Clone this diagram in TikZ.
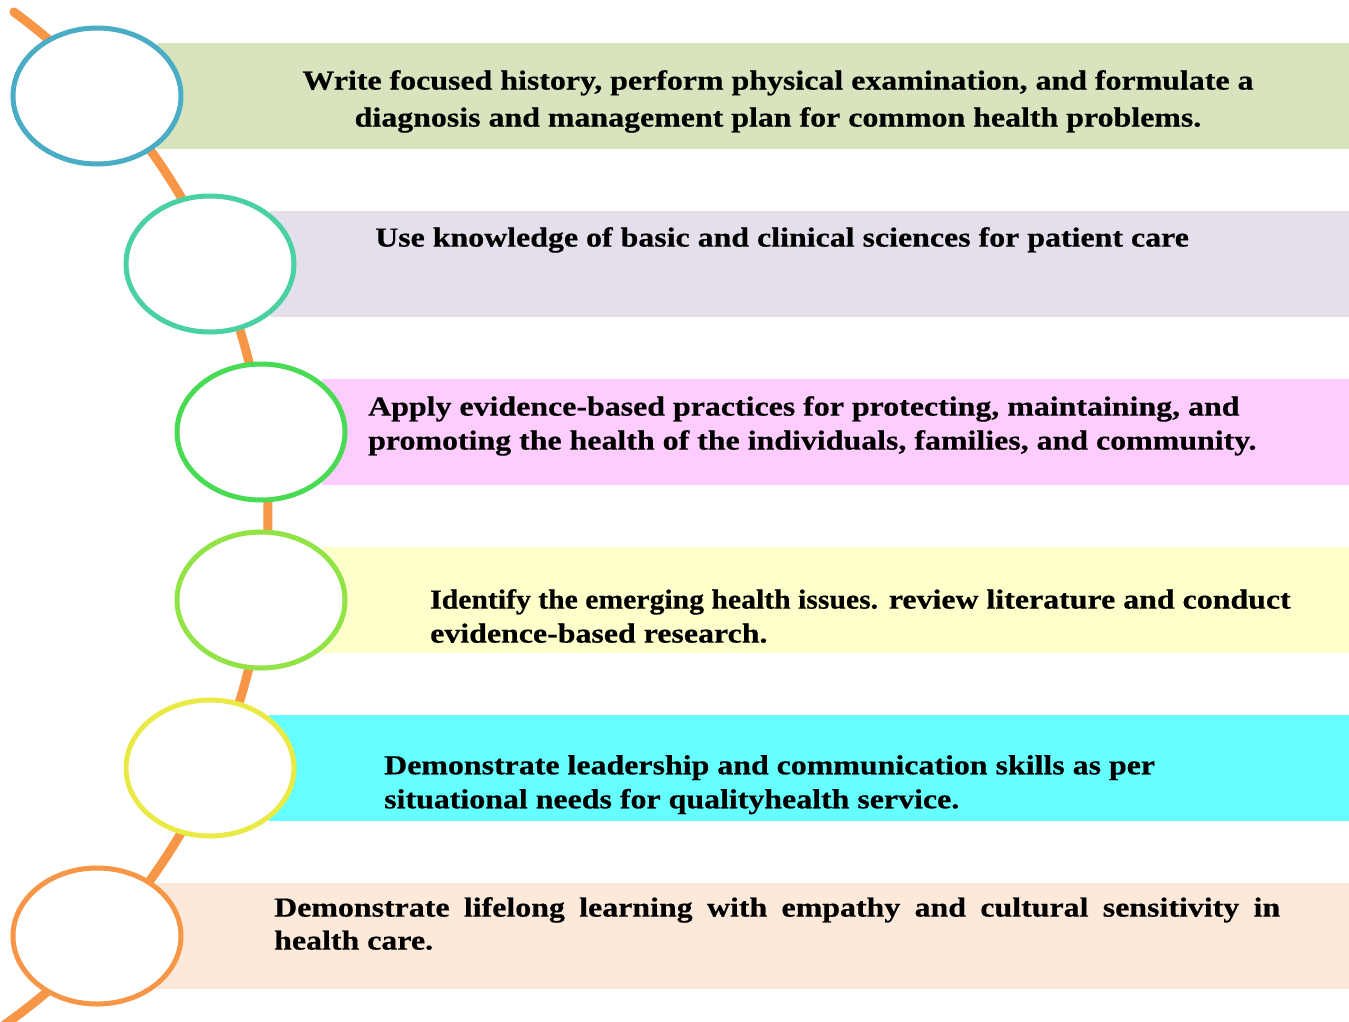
\documentclass[tikz,border=0pt]{standalone}
\usepackage{fontspec}
\setmainfont{Liberation Serif}[FakeStretch=1.16,FakeBold=0.5]
\newfontfamily\narrowgoal{Liberation Serif}[FakeStretch=1.08,FakeBold=0.5]
\usetikzlibrary{shapes.geometric,calc}

\definecolor{spine}{HTML}{F79646}
\definecolor{barA}{HTML}{D7E4BD}
\definecolor{barB}{HTML}{E5DFEC}
\definecolor{barC}{HTML}{FFCCFF}
\definecolor{barD}{HTML}{FFFFCC}
\definecolor{barE}{HTML}{66FFFF}
\definecolor{barF}{HTML}{FCE9DA}
\definecolor{ringA}{HTML}{4BACC6}
\definecolor{ringB}{HTML}{4AD1A1}
\definecolor{ringC}{HTML}{4ADB55}
\definecolor{ringD}{HTML}{92E346}
\definecolor{ringE}{HTML}{E9EA46}
\definecolor{ringF}{HTML}{F79646}

\begin{document}
\begin{tikzpicture}[x=1pt,y=-1pt,
  bar/.style={rectangle,anchor=north west,minimum height=106pt,inner sep=0pt},
  ring/.style={ellipse,draw,fill=white,line width=5pt,minimum width=168pt,minimum height=136pt,inner sep=0pt},
  goal/.style={anchor=north west,inner sep=0pt,font=\fontsize{27.5}{34}\selectfont\bfseries,align=left}]

\useasboundingbox (0,0) rectangle (1349,1021);

% spine behind everything
\coordinate (spinetop) at ($(-357,515)+(-53.6:625)$);
\draw[spine,line width=9pt,line cap=round] (spinetop) arc[start angle=-53.6,end angle=56,radius=625];

% coloured bars
\node[bar,fill=barA,minimum width=1192pt] (B1) at (157,43)  {};
\node[bar,fill=barB,minimum width=1079pt] (B2) at (270,211) {};
\node[bar,fill=barC,minimum width=1027pt] (B3) at (322,379) {};
\node[bar,fill=barD,minimum width=1027pt] (B4) at (322,547) {};
\node[bar,fill=barE,minimum width=1080pt] (B5) at (269,715) {};
\node[bar,fill=barF,minimum width=1192pt] (B6) at (157,883) {};

% rings on the spine
\node[ring,draw=ringA] (R1) at (97,96)  {};
\node[ring,draw=ringB] (R2) at (210,264) {};
\node[ring,draw=ringC] (R3) at (261,432) {};
\node[ring,draw=ringD] (R4) at (261,600) {};
\node[ring,draw=ringE] (R5) at (210,768) {};
\node[ring,draw=ringF] (R6) at (97,936) {};

% texts
\node[goal,anchor=north,align=center,font=\fontsize{27.5}{37}\selectfont\bfseries] (T1) at (778,70)
  {Write focused history, perform physical examination, and formulate a\\
   diagnosis and management plan for common health problems.};
\node[goal] (T2) at (375,227) {Use knowledge of basic and clinical sciences for patient care};
\node[goal] (T3) at (368,396)
  {Apply evidence-based practices for protecting, maintaining, and\\
   promoting the health of the individuals, families, and community.};
\node[goal] (T4) at (430,589)
  {{\narrowgoal\bfseries Identify the emerging health issues.} review literature and conduct\\
   evidence-based research.};
\node[goal] (T5) at (384,755)
  {Demonstrate leadership and communication skills as per\\
   situational needs for qualityhealth service.};
\node[goal,text width=1006pt,align=justify,font=\fontsize{27.5}{33}\selectfont\bfseries] (T6) at (274,897)
  {Demonstrate lifelong learning with empathy and cultural sensitivity in\linebreak
   health care.};

\end{tikzpicture}
\end{document}
